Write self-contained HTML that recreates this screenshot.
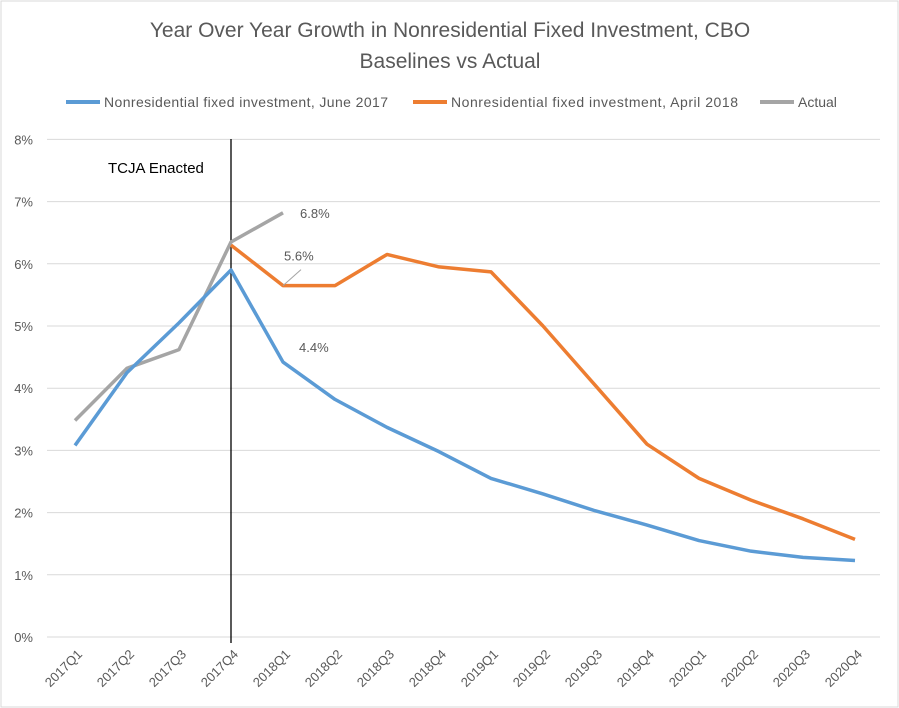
<!DOCTYPE html>
<html><head><meta charset="utf-8"><style>
body{margin:0;background:#fff;font-family:"Liberation Sans",sans-serif;}
#wrap{position:relative;width:899px;height:708px;overflow:hidden;}
</style></head><body>
<div id="wrap">
<svg id="svg" width="899" height="708" xmlns="http://www.w3.org/2000/svg">
<rect x="1" y="1" width="897" height="706" fill="#fff" stroke="#d9d9d9"/>
<text x="450" y="37" text-anchor="middle" font-size="21" fill="#595959">Year Over Year Growth in Nonresidential Fixed Investment, CBO</text>
<text x="450" y="68" text-anchor="middle" font-size="21" fill="#595959">Baselines vs Actual</text>
<g font-size="14" fill="#595959">
<line x1="66" y1="102" x2="100" y2="102" stroke="#5b9bd5" stroke-width="4"/>
<text x="104" y="107" textLength="284">Nonresidential fixed investment, June 2017</text>
<line x1="413" y1="102" x2="447" y2="102" stroke="#ed7d31" stroke-width="4"/>
<text x="451" y="107" textLength="287">Nonresidential fixed investment, April 2018</text>
<line x1="760" y1="102" x2="794" y2="102" stroke="#a5a5a5" stroke-width="4"/>
<text x="798" y="107">Actual</text>
</g>
<g id="grid"></g><g id="xl"></g><g id="series"></g>
</svg>
</div>
<script>
const categories=["2017Q1","2017Q2","2017Q3","2017Q4","2018Q1","2018Q2","2018Q3","2018Q4","2019Q1","2019Q2","2019Q3","2019Q4","2020Q1","2020Q2","2020Q3","2020Q4"];
const june2017=[3.08,4.25,5.05,5.9,4.42,3.82,3.37,2.98,2.55,2.3,2.03,1.8,1.55,1.38,1.28,1.23];
const april2018=[null,null,null,6.3,5.65,5.65,6.15,5.95,5.87,5.0,4.05,3.1,2.55,2.2,1.9,1.57];
const actual=[3.48,4.32,4.62,6.35,6.82,null,null,null,null,null,null,null,null,null,null,null];
const yTicks=[0,1,2,3,4,5,6,7,8];
const NS="http://www.w3.org/2000/svg";
const X=i=>75+i*52, Y=v=>637-v*62.2;
function mk(t,a,p){const e=document.createElementNS(NS,t);for(const k in a)e.setAttribute(k,a[k]);document.getElementById(p).appendChild(e);return e;}
yTicks.forEach(v=>{
 const l=mk('line',{x1:47,x2:880,y1:Y(v),y2:Y(v),stroke:'#d9d9d9','stroke-width':1},'grid');
 
 
 const t=mk('text',{x:33,y:Y(v)+5,'text-anchor':'end','font-size':13,fill:'#595959'},'grid');
 t.textContent=v+'%';
 
 
});
categories.forEach((c,i)=>{
 const t=mk('text',{x:X(i)+8,y:655,'text-anchor':'end','font-size':13,fill:'#595959',transform:`rotate(-45 ${X(i)+8} 655)`},'xl');
 t.textContent=c;
 
 
});
const vl=mk('line',{x1:X(3),x2:X(3),y1:139,y2:643,stroke:'#000','stroke-width':1.3},'series');


const vt=mk('text',{x:108,y:173,'font-size':15,fill:'#000'},'series');
vt.textContent='TCJA Enacted';


function line(arr,col,name){
 const pts=arr.map((v,i)=>v==null?null:X(i)+','+Y(v)).filter(p=>p).join(' ');
 const p=mk('polyline',{points:pts,fill:'none',stroke:col,'stroke-width':3.5,'stroke-linejoin':'round'},'series');
 
 
}
line(actual,'#a5a5a5','series-actual');
line(april2018,'#ed7d31','series-april-2018');
line(june2017,'#5b9bd5','series-june-2017');
function lab(txt,x,y,name){const t=mk('text',{x:x,y:y,'font-size':13,fill:'#595959'},'series');t.textContent=txt;
 
 }
lab(actual[4].toFixed(1)+'%',X(4)+17,Y(actual[4])+5,'label-actual');
lab('5.6%',X(4)+1,Y(april2018[4])-25,'label-april');
lab(june2017[4].toFixed(1)+'%',X(4)+16,Y(june2017[4])-10,'label-june');
const ll=mk('line',{x1:X(4),y1:Y(april2018[4]),x2:X(4)+18,y2:Y(april2018[4])-16,stroke:'#a5a5a5','stroke-width':1},'series');


</script>
</body></html>
